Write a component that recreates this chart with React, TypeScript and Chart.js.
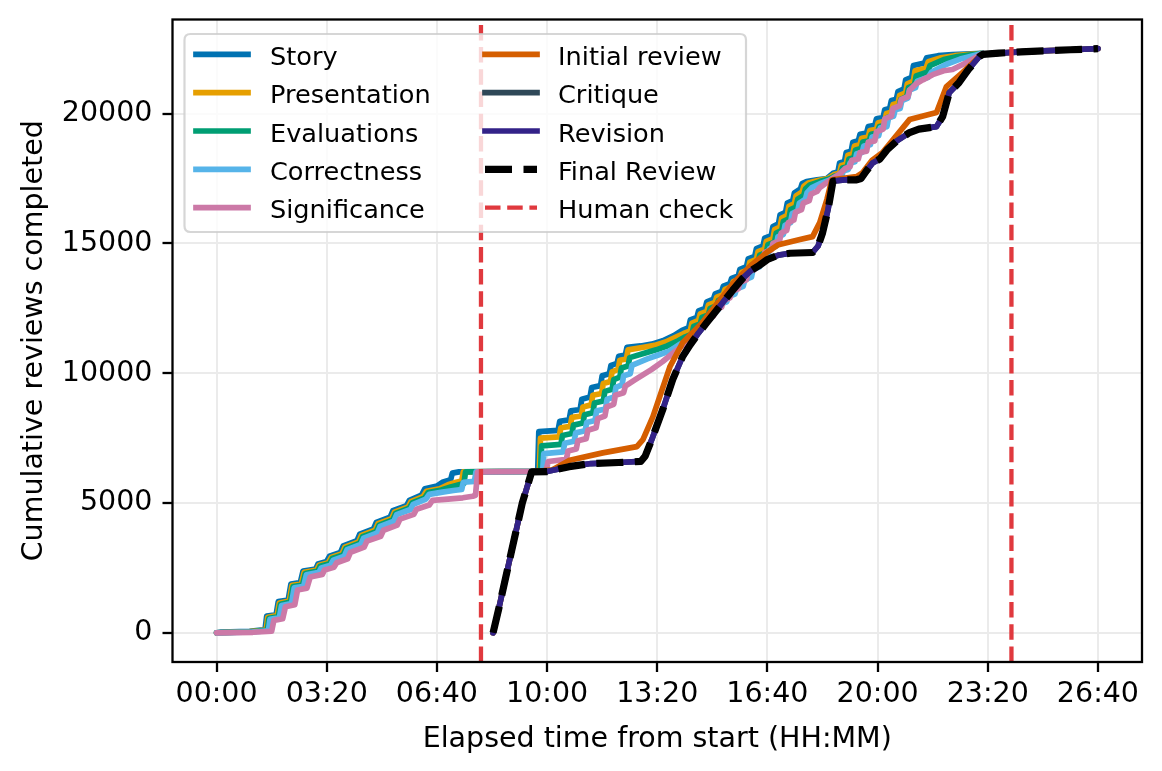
import React, { useEffect, useRef } from 'react';
import { Chart, registerables } from 'chart.js';

Chart.register(...registerables);

type P = [number, number];

// x values are minutes from start, y values are cumulative reviews
const X_TICKS = [0, 200, 400, 600, 800, 1000, 1200, 1400, 1600];
const Y_TICKS = [0, 5000, 10000, 15000, 20000];
const X_MIN = -80;
const X_MAX = 1680;
const Y_MIN = -1125;
const Y_MAX = 23625;
const HUMAN_CHECK_TIMES = [480, 1443];

const story: P[] = [
  [0, 0], [8, 30], [60, 60], [88, 120], [91, 640], [108, 690], [112, 1200], [130, 1260], [135, 1880], [152, 1930],
  [157, 2380], [180, 2450], [184, 2650], [200, 2750], [205, 2950], [225, 3100], [230, 3350], [255, 3550], [260, 3800],
  [285, 4000], [290, 4250], [315, 4450], [320, 4700], [345, 4900], [350, 5100], [372, 5300], [378, 5550], [400, 5650],
  [410, 5800], [425, 5900], [428, 6150], [440, 6200], [583, 6220], [585, 7750], [620, 7800], [623, 8150], [640, 8200],
  [643, 8550], [660, 8600], [663, 9000], [678, 9080], [681, 9450], [697, 9520], [700, 9900], [713, 9980], [716, 10300],
  [727, 10380], [730, 10650], [742, 10700], [745, 11000], [770, 11050], [790, 11120], [810, 11250], [830, 11450],
  [845, 11650], [857, 11750], [860, 12050], [872, 12150], [875, 12400], [887, 12500], [890, 12750], [902, 12850],
  [905, 13050], [917, 13150], [920, 13350], [932, 13450], [935, 13650], [947, 13750], [950, 14000], [962, 14100],
  [965, 14400], [977, 14500], [980, 14800], [992, 14900], [995, 15200], [1007, 15300], [1010, 15650], [1020, 15750],
  [1023, 16100], [1033, 16200], [1036, 16550], [1046, 16650], [1049, 16950], [1060, 17100], [1063, 17300],
  [1071, 17380], [1090, 17450], [1108, 17500], [1119, 17700], [1128, 17750], [1131, 18100], [1140, 18150],
  [1143, 18500], [1152, 18550], [1155, 18900], [1165, 18950], [1168, 19200], [1180, 19250], [1183, 19500],
  [1195, 19550], [1198, 19800], [1210, 19850], [1213, 20150], [1222, 20200], [1225, 20500], [1234, 20550],
  [1237, 20850], [1248, 20950], [1251, 21300], [1262, 21400], [1265, 21850], [1285, 21950], [1289, 22150],
  [1310, 22230], [1336, 22270], [1391, 22320],
];

const presentation: P[] = [
  [0, 0], [60, 50], [90, 100], [93, 600], [110, 660], [114, 1150], [132, 1220], [137, 1830], [154, 1880], [159, 2330],
  [182, 2420], [186, 2600], [203, 2700], [208, 2900], [228, 3050], [233, 3300], [258, 3500], [263, 3750], [288, 3950],
  [293, 4200], [318, 4400], [323, 4650], [348, 4850], [353, 5050], [375, 5250], [381, 5450], [405, 5550], [420, 5700],
  [435, 5800], [445, 5850], [448, 6200], [586, 6220], [588, 7500], [622, 7550], [625, 7900], [642, 7950], [645, 8300],
  [662, 8350], [665, 8700], [680, 8780], [683, 9150], [699, 9220], [702, 9600], [715, 9680], [718, 10050],
  [729, 10150], [732, 10500], [744, 10550], [747, 10900], [775, 11000], [795, 11070], [815, 11200], [835, 11400],
  [848, 11530], [860, 11630], [863, 11930], [875, 12030], [878, 12280], [890, 12380], [893, 12630], [905, 12730],
  [908, 12930], [920, 13030], [923, 13230], [935, 13330], [938, 13530], [950, 13630], [953, 13880], [965, 13980],
  [968, 14280], [980, 14380], [983, 14680], [995, 14780], [998, 15080], [1010, 15180], [1013, 15530], [1023, 15630],
  [1026, 15980], [1036, 16080], [1039, 16430], [1049, 16530], [1052, 16830], [1063, 16980], [1066, 17200],
  [1074, 17330], [1092, 17420], [1110, 17500], [1121, 17650], [1131, 17700], [1134, 18000], [1143, 18050],
  [1146, 18400], [1155, 18450], [1158, 18750], [1168, 18800], [1171, 19050], [1183, 19100], [1186, 19350],
  [1198, 19400], [1201, 19650], [1213, 19700], [1216, 20000], [1225, 20050], [1228, 20350], [1237, 20400],
  [1240, 20700], [1251, 20800], [1254, 21150], [1265, 21250], [1268, 21650], [1288, 21750], [1292, 22000],
  [1315, 22150], [1340, 22230], [1391, 22320],
];

const evaluations: P[] = [
  [0, 0], [62, 40], [92, 90], [95, 560], [112, 620], [116, 1100], [134, 1180], [139, 1780], [156, 1840], [161, 2280],
  [184, 2380], [188, 2560], [205, 2660], [210, 2860], [230, 3000], [235, 3250], [260, 3450], [265, 3700], [290, 3900],
  [295, 4150], [320, 4350], [325, 4600], [350, 4800], [355, 5000], [378, 5200], [384, 5400], [408, 5500], [425, 5620],
  [440, 5700], [449, 5750], [452, 6200], [588, 6220], [590, 7200], [625, 7260], [628, 7600], [645, 7680], [648, 8000],
  [665, 8080], [668, 8400], [683, 8480], [686, 8850], [702, 8930], [705, 9300], [718, 9380], [721, 9750], [732, 9850],
  [735, 10200], [747, 10280], [750, 10600], [778, 10780], [798, 10900], [818, 11050], [838, 11250], [851, 11400],
  [863, 11500], [866, 11800], [878, 11900], [881, 12150], [893, 12250], [896, 12500], [908, 12600], [911, 12800],
  [923, 12900], [926, 13100], [938, 13200], [941, 13400], [953, 13500], [956, 13750], [968, 13850], [971, 14150],
  [983, 14250], [986, 14550], [998, 14650], [1001, 14950], [1013, 15050], [1016, 15400], [1026, 15500], [1029, 15850],
  [1039, 15950], [1042, 16300], [1052, 16400], [1055, 16700], [1066, 16850], [1069, 17100], [1077, 17250],
  [1095, 17380], [1112, 17480], [1123, 17600], [1133, 17650], [1136, 17900], [1145, 17950], [1148, 18250],
  [1157, 18300], [1160, 18600], [1170, 18650], [1173, 18900], [1185, 18950], [1188, 19200], [1200, 19250],
  [1203, 19500], [1215, 19550], [1218, 19850], [1227, 19900], [1230, 20200], [1239, 20250], [1242, 20550],
  [1253, 20650], [1256, 21000], [1267, 21100], [1270, 21450], [1291, 21600], [1295, 21850], [1320, 22080],
  [1345, 22200], [1391, 22320],
];

const correctness: P[] = [
  [0, 0], [64, 30], [94, 80], [97, 520], [114, 580], [118, 1050], [136, 1130], [141, 1730], [158, 1790], [163, 2230],
  [186, 2330], [190, 2500], [207, 2600], [212, 2800], [232, 2950], [237, 3200], [262, 3400], [267, 3650], [292, 3850],
  [297, 4100], [322, 4300], [327, 4550], [352, 4750], [357, 4950], [380, 5150], [386, 5330], [410, 5420], [430, 5480],
  [445, 5520], [448, 5800], [468, 5830], [471, 6200], [592, 6220], [594, 6900], [629, 6970], [632, 7300], [649, 7380],
  [652, 7700], [669, 7780], [672, 8100], [687, 8180], [690, 8550], [706, 8620], [709, 9000], [722, 9080], [725, 9450],
  [736, 9550], [739, 9900], [751, 9980], [754, 10300], [782, 10550], [802, 10700], [822, 10850], [840, 11100],
  [854, 11250], [866, 11350], [869, 11650], [881, 11750], [884, 12000], [896, 12100], [899, 12350], [911, 12450],
  [914, 12650], [926, 12750], [929, 12950], [941, 13050], [944, 13250], [956, 13350], [959, 13600], [971, 13700],
  [974, 14000], [986, 14100], [989, 14400], [1001, 14500], [1004, 14800], [1016, 14900], [1019, 15250], [1029, 15350],
  [1032, 15700], [1042, 15800], [1045, 16150], [1055, 16250], [1058, 16550], [1069, 16700], [1072, 16950],
  [1081, 17150], [1098, 17320], [1114, 17450], [1125, 17550], [1135, 17600], [1138, 17800], [1147, 17850],
  [1150, 18100], [1159, 18150], [1162, 18450], [1172, 18500], [1175, 18750], [1187, 18800], [1190, 19100],
  [1202, 19150], [1205, 19450], [1217, 19500], [1220, 19850], [1229, 19900], [1232, 20150], [1241, 20200],
  [1244, 20500], [1255, 20600], [1258, 20900], [1269, 21000], [1272, 21250], [1292, 21400], [1298, 21600],
  [1325, 21900], [1350, 22100], [1391, 22320],
];

const significance: P[] = [
  [0, 0], [66, 20], [100, 60], [104, 480], [120, 540], [125, 1000], [142, 1080], [147, 1650], [164, 1720], [170, 2150],
  [192, 2250], [196, 2420], [213, 2520], [218, 2700], [238, 2850], [243, 3100], [268, 3300], [273, 3530], [298, 3720],
  [303, 3950], [328, 4150], [333, 4380], [358, 4560], [363, 4760], [386, 4920], [392, 5100], [420, 5150], [447, 5200],
  [465, 5260], [470, 5300], [474, 6200], [598, 6220], [602, 6600], [635, 6680], [638, 7000], [653, 7080], [656, 7400],
  [671, 7480], [674, 7800], [689, 7900], [692, 8250], [705, 8350], [708, 8700], [721, 8800], [724, 9150], [739, 9250],
  [742, 9500], [760, 9750], [790, 10150], [810, 10450], [830, 10800], [845, 11050], [857, 11150], [860, 11400],
  [872, 11500], [875, 11750], [887, 11850], [890, 12100], [902, 12200], [905, 12450], [917, 12550], [920, 12800],
  [932, 12900], [935, 13150], [947, 13250], [950, 13500], [962, 13600], [965, 13900], [977, 14000], [980, 14250],
  [992, 14350], [995, 14650], [1007, 14750], [1010, 15000], [1022, 15100], [1025, 15400], [1035, 15500],
  [1038, 15800], [1048, 15900], [1051, 16200], [1062, 16300], [1065, 16550], [1076, 16650], [1079, 16900],
  [1090, 17000], [1095, 17150], [1105, 17300], [1119, 17520], [1130, 17650], [1142, 17900], [1150, 17950],
  [1153, 18200], [1165, 18250], [1168, 18500], [1180, 18550], [1183, 18900], [1195, 18950], [1198, 19300],
  [1210, 19400], [1213, 19800], [1225, 19900], [1228, 20200], [1240, 20300], [1243, 20550], [1255, 20650],
  [1258, 20900], [1270, 21150], [1282, 21300], [1300, 21500], [1320, 21650], [1336, 21700], [1360, 21950],
  [1391, 22320],
];

const initialReview: P[] = [
  [502, 0], [512, 900], [535, 3100], [555, 5000], [572, 6200], [610, 6280], [641, 6650], [701, 6930], [763, 7170],
  [774, 7440], [792, 8320], [823, 10250], [846, 11170], [880, 11900], [937, 13450], [970, 14150], [999, 14650],
  [1020, 14950], [1059, 15150], [1082, 15260], [1095, 15800], [1108, 16690], [1117, 17450], [1162, 17570],
  [1173, 17730], [1190, 18200], [1209, 18500], [1258, 19770], [1307, 20040], [1325, 21040], [1354, 21580],
  [1385, 22200], [1391, 22280], [1420, 22330], [1460, 22380], [1500, 22420], [1550, 22460], [1600, 22500],
];

const finalReview: P[] = [
  [502, 0], [512, 900], [535, 3100], [555, 5000], [572, 6200], [600, 6210], [615, 6280], [640, 6400], [680, 6520],
  [730, 6560], [770, 6600], [778, 6800], [790, 7440], [810, 8600], [828, 9750], [846, 10640], [860, 11100],
  [875, 11550], [890, 11950], [905, 12350], [920, 12750], [937, 13200], [955, 13650], [970, 13950], [985, 14150],
  [1000, 14380], [1020, 14550], [1041, 14620], [1082, 14650], [1092, 14900], [1100, 15400], [1110, 16300],
  [1119, 17400], [1140, 17450], [1162, 17450], [1170, 17500], [1180, 17800], [1191, 18100], [1204, 18250],
  [1217, 18600], [1235, 18950], [1258, 19270], [1275, 19400], [1307, 19500], [1318, 19880], [1330, 20800],
  [1348, 21200], [1365, 21700], [1385, 22200], [1391, 22280], [1420, 22330], [1460, 22380], [1500, 22420],
  [1550, 22460], [1600, 22500],
];

const critique: P[] = finalReview.map((p) => [p[0], p[1]] as P);
const revision: P[] = finalReview.map((p) => [p[0], p[1]] as P);

type Series = { label: string; color: string; width: number; dash: number[]; points: P[] };

const SERIES: Series[] = [
  { label: 'Story', color: '#0072B2', width: 5.7, dash: [], points: story },
  { label: 'Presentation', color: '#E69F00', width: 5.7, dash: [], points: presentation },
  { label: 'Evaluations', color: '#009E73', width: 5.7, dash: [], points: evaluations },
  { label: 'Correctness', color: '#56B4E9', width: 5.7, dash: [], points: correctness },
  { label: 'Significance', color: '#CC79A7', width: 5.7, dash: [], points: significance },
  { label: 'Initial review', color: '#D55E00', width: 5.7, dash: [], points: initialReview },
  { label: 'Critique', color: '#2F4858', width: 5.7, dash: [], points: critique },
  { label: 'Revision', color: '#332288', width: 5.7, dash: [], points: revision },
  { label: 'Final Review', color: '#000000', width: 7.2, dash: [27, 11.5], points: finalReview },
];

const HUMAN_COLOR = '#E0393E';
const FONT = "'DejaVu Sans', 'Liberation Sans', sans-serif";

const pad2 = (n: number) => (n < 10 ? '0' + n : '' + n);

const framePlugin = {
  id: 'mplFrame',
  afterDatasetsDraw(chart: any) {
    const { ctx, chartArea } = chart;
    ctx.save();
    ctx.strokeStyle = '#000';
    ctx.lineWidth = 2.3;
    ctx.strokeRect(chartArea.left, chartArea.top, chartArea.right - chartArea.left, chartArea.bottom - chartArea.top);
    ctx.restore();
  },
};

const legendPlugin = {
  id: 'mplLegend',
  afterDraw(chart: any) {
    const ctx: CanvasRenderingContext2D = chart.ctx;
    ctx.save();
    const x0 = 184.5, y0 = 34, x1 = 746, y1 = 232, r = 6;
    ctx.beginPath();
    ctx.moveTo(x0 + r, y0);
    ctx.lineTo(x1 - r, y0);
    ctx.quadraticCurveTo(x1, y0, x1, y0 + r);
    ctx.lineTo(x1, y1 - r);
    ctx.quadraticCurveTo(x1, y1, x1 - r, y1);
    ctx.lineTo(x0 + r, y1);
    ctx.quadraticCurveTo(x0, y1, x0, y1 - r);
    ctx.lineTo(x0, y0 + r);
    ctx.quadraticCurveTo(x0, y0, x0 + r, y0);
    ctx.closePath();
    ctx.fillStyle = 'rgba(255,255,255,0.8)';
    ctx.fill();
    ctx.strokeStyle = 'rgba(204,204,204,0.8)';
    ctx.lineWidth = 2.2;
    ctx.stroke();

    const seen = new Set<string>();
    const items: any[] = [];
    chart.data.datasets.forEach((d: any) => {
      if (seen.has(d.label)) return;
      seen.add(d.label);
      items.push({ label: d.label, color: d.borderColor, width: d.borderWidth, dash: d.borderDash || [] });
    });
    const handleStart = [196, 485];
    const textStart = [270, 558];
    const handleLen = 52;
    ctx.font = `25.6px ${FONT}`;
    ctx.textBaseline = 'alphabetic';
    ctx.textAlign = 'left';
    items.forEach((it: any, i: number) => {
      const col = i < 5 ? 0 : 1;
      const row = i % 5;
      const cy = 54.3 + row * 38.35;
      ctx.beginPath();
      ctx.strokeStyle = it.color;
      ctx.lineWidth = it.width;
      ctx.setLineDash(it.dash);
      ctx.lineCap = it.dash.length ? 'butt' : 'square';
      ctx.moveTo(handleStart[col], cy);
      ctx.lineTo(handleStart[col] + handleLen, cy);
      ctx.stroke();
      ctx.setLineDash([]);
      ctx.fillStyle = '#000';
      ctx.fillText(it.label, textStart[col], cy + 10.5);
    });
    ctx.restore();
  },
};

export default function App() {
  const ref = useRef<HTMLCanvasElement | null>(null);

  useEffect(() => {
    if (!ref.current) return;
    const lineSets: any[] = SERIES.map((s, i) => ({
      label: s.label,
      data: s.points.map((p) => ({ x: p[0], y: p[1] })),
      borderColor: s.color,
      backgroundColor: s.color,
      borderWidth: s.width,
      borderDash: s.dash,
      borderJoinStyle: 'round',
      borderCapStyle: s.dash.length ? 'butt' : 'round',
      pointRadius: 0,
      tension: 0,
      fill: false,
      order: 100 - i,
    }));
    const humanSets: any[] = HUMAN_CHECK_TIMES.map((t, k) => ({
      label: 'Human check',
      data: [
        { x: t, y: Y_MIN },
        { x: t, y: Y_MAX },
      ],
      borderColor: HUMAN_COLOR,
      backgroundColor: HUMAN_COLOR,
      borderWidth: 4.3,
      borderDash: [15.5, 6.7],
      borderCapStyle: 'butt',
      pointRadius: 0,
      fill: false,
      order: 50 - k,
    }));

    const tickFont = { family: FONT, size: 28.5 };
    const chart = new Chart(ref.current, {
      type: 'line',
      data: { datasets: [...lineSets, ...humanSets] },
      options: {
        animation: false,
        responsive: false,
        events: [],
        layout: { padding: { left: 0, top: 19.5, right: 20, bottom: 0 } },
        plugins: {
          legend: { display: false },
          tooltip: { enabled: false },
        },
        scales: {
          x: {
            type: 'linear',
            min: X_MIN,
            max: X_MAX,
            afterBuildTicks: (scale: any) => {
              scale.ticks = X_TICKS.map((v) => ({ value: v }));
            },
            afterFit: (scale: any) => {
              scale.height = 109;
              scale.paddingLeft = 0;
              scale.paddingRight = 0;
            },
            ticks: {
              autoSkip: false,
              maxRotation: 0,
              minRotation: 0,
              padding: 5,
              color: '#000',
              font: tickFont,
              callback: (v: any) => {
                const n = Number(v);
                return pad2(Math.floor(n / 60)) + ':' + pad2(n % 60);
              },
            },
            grid: {
              color: '#ebebeb',
              lineWidth: 2,
              tickColor: '#000',
              tickWidth: 2.3,
              tickLength: 10,
            },
            border: { display: false },
            title: {
              display: true,
              text: 'Elapsed time from start (HH:MM)',
              color: '#000',
              font: { family: FONT, size: 28.5 },
              padding: { top: 0, bottom: 14 },
            },
          },
          y: {
            type: 'linear',
            min: Y_MIN,
            max: Y_MAX,
            afterBuildTicks: (scale: any) => {
              scale.ticks = Y_TICKS.map((v) => ({ value: v }));
            },
            afterFit: (scale: any) => {
              scale.width = 172.5;
              scale.paddingTop = 0;
              scale.paddingBottom = 0;
            },
            ticks: {
              padding: 10,
              color: '#000',
              font: tickFont,
              callback: (v: any) => String(v),
            },
            grid: {
              color: '#ebebeb',
              lineWidth: 2,
              tickColor: '#000',
              tickWidth: 2.3,
              tickLength: 10,
            },
            border: { display: false },
            title: {
              display: true,
              text: 'Cumulative reviews completed',
              color: '#000',
              font: { family: FONT, size: 28.5 },
              padding: { top: 17, bottom: 0 },
            },
          },
        },
      },
      plugins: [framePlugin, legendPlugin],
    } as any);
    return () => chart.destroy();
  }, []);

  return (
    <div style={{ position: 'absolute', left: 0, top: 0, width: 1162, height: 771, background: '#fff' }}>
      <canvas ref={ref} width={1162} height={771} style={{ width: 1162, height: 771, display: 'block' }} />
    </div>
  );
}
